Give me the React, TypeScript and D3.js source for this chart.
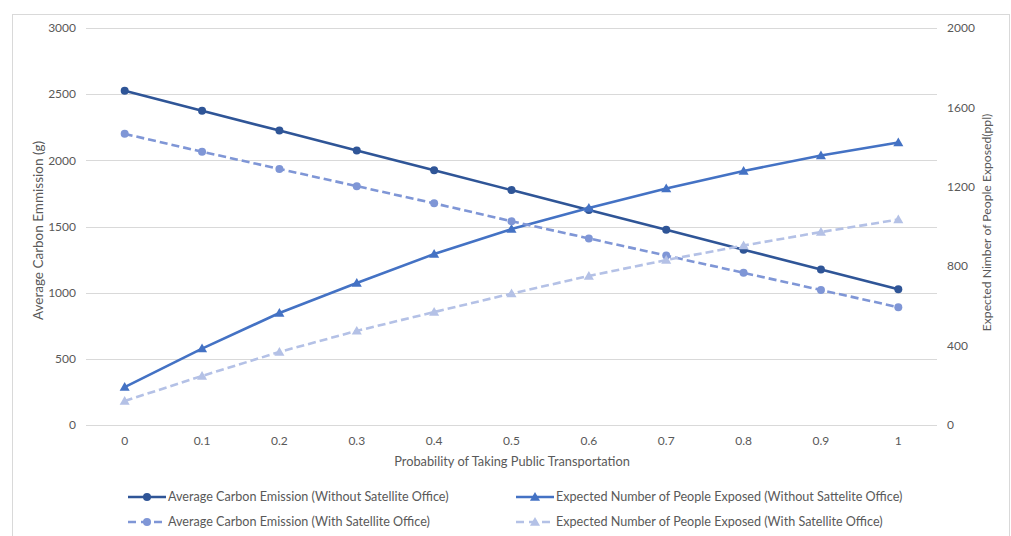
import React from "react";
import * as d3 from "d3";

const categories = ["0", "0.1", "0.2", "0.3", "0.4", "0.5", "0.6", "0.7", "0.8", "0.9", "1"];
const carbonWithout = [2525, 2375, 2225, 2075, 1925, 1775, 1625, 1475, 1325, 1175, 1025];
const carbonWith = [2200, 2065, 1935, 1805, 1675, 1540, 1410, 1280, 1150, 1020, 890];
const peopleWithout = [191, 385, 564, 715, 861, 987, 1093, 1191, 1280, 1358, 1423];
const peopleWith = [121, 247, 368, 474, 569, 662, 751, 831, 904, 972, 1035];
const leftTicks = [0, 500, 1000, 1500, 2000, 2500, 3000];
const rightTicks = [0, 400, 800, 1200, 1600, 2000];

const W = 1011;
const H = 536;
const plot = { left: 86, right: 937, top: 28, bottom: 425 };
const font = "Lato, 'Open Sans', sans-serif";
const textColor = "#595959";

type Series = {
  name: string;
  values: number[];
  axis: "left" | "right";
  color: string;
  dash?: string;
  marker: "circle" | "triangle";
};

const series: Series[] = [
  { name: "Average Carbon Emission (Without Satellite Office)", values: carbonWithout, axis: "left", color: "#2F5597", marker: "circle" },
  { name: "Expected Number of People Exposed (Without Sattelite Office)", values: peopleWithout, axis: "right", color: "#4472C4", marker: "triangle" },
  { name: "Average Carbon Emission (With Satellite Office)", values: carbonWith, axis: "left", color: "#7F96D6", dash: "8,4", marker: "circle" },
  { name: "Expected Number of People Exposed (With Satellite Office)", values: peopleWith, axis: "right", color: "#B4C1E6", dash: "8,4", marker: "triangle" },
];

function Marker({ type, x, y, color }: { type: string; x: number; y: number; color: string }) {
  if (type === "circle") return <circle cx={x} cy={y} r={4} fill={color} />;
  const s = d3.symbol(d3.symbolTriangle, 44)();
  return <path d={s || ""} transform={`translate(${x},${y + 0.8})`} fill={color} />;
}

export default function App() {
  const x = d3.scalePoint<string>().domain(categories).range([plot.left, plot.right]).padding(0.5);
  const yL = d3.scaleLinear().domain([0, 3000]).range([plot.bottom, plot.top]);
  const yR = d3.scaleLinear().domain([0, 2000]).range([plot.bottom, plot.top]);

  const legend = [
    { s: series[0], lx: 128, ly: 497 },
    { s: series[1], lx: 516, ly: 497 },
    { s: series[2], lx: 128, ly: 522 },
    { s: series[3], lx: 516, ly: 522 },
  ];

  return (
    <svg width={W} height={H} style={{ position: "absolute", left: 0, top: 0, background: "#fff" }}>
      <rect x={12.5} y={14.5} width={997} height={540} fill="#fff" stroke="#d9d9d9" />
      {leftTicks.map((t) => (
        <g key={"l" + t}>
          <line x1={plot.left} x2={plot.right} y1={Math.round(yL(t)) + 0.5} y2={Math.round(yL(t)) + 0.5} stroke="#d9d9d9" strokeWidth={1} />
          <text x={76} y={yL(t)} dy="0.35em" textAnchor="end" fontFamily={font} fontSize={12} fill={textColor}>{t}</text>
        </g>
      ))}
      {rightTicks.map((t) => (
        <text key={"r" + t} x={947} y={yR(t)} dy="0.35em" textAnchor="start" fontFamily={font} fontSize={12} fill={textColor}>{t}</text>
      ))}
      {categories.map((c) => (
        <text key={"x" + c} x={x(c)} y={445} textAnchor="middle" fontFamily={font} fontSize={12} fill={textColor}>{c}</text>
      ))}
      <text x={512} y={466} textAnchor="middle" fontFamily={font} fontSize={12.8} fill={textColor}>Probability of Taking Public Transportation</text>
      <text transform={`translate(43,${(plot.top + plot.bottom) / 2 + 4}) rotate(-90)`} textAnchor="middle" fontFamily={font} fontSize={13.5} fill={textColor}>Average Carbon Emmission (g)</text>
      <text transform={`translate(991,${(plot.top + plot.bottom) / 2 - 4}) rotate(-90)`} textAnchor="middle" fontFamily={font} fontSize={12.2} fill={textColor}>Expected Nimber of People Exposed(ppl)</text>

      {series.map((s) => {
        const yScale = s.axis === "left" ? yL : yR;
        const line = d3.line<number>().x((_, i) => x(categories[i]) as number).y((v) => yScale(v));
        return (
          <g key={s.name}>
            <path d={line(s.values) || ""} fill="none" stroke={s.color} strokeWidth={2.6} strokeDasharray={s.dash} strokeLinejoin="round" />
            {s.values.map((v, i) => (
              <Marker key={i} type={s.marker} x={x(categories[i]) as number} y={yScale(v)} color={s.color} />
            ))}
          </g>
        );
      })}

      {legend.map(({ s, lx, ly }) => (
        <g key={"lg" + s.name}>
          <line x1={lx} x2={lx + 38} y1={ly} y2={ly} stroke={s.color} strokeWidth={2.6} strokeDasharray={s.dash ? "8,5" : undefined} />
          <Marker type={s.marker} x={lx + 19} y={ly} color={s.color} />
          <text x={lx + 40} y={ly} dy="0.35em" fontFamily={font} fontSize={12.6} fill={textColor}>{s.name}</text>
        </g>
      ))}
    </svg>
  );
}
